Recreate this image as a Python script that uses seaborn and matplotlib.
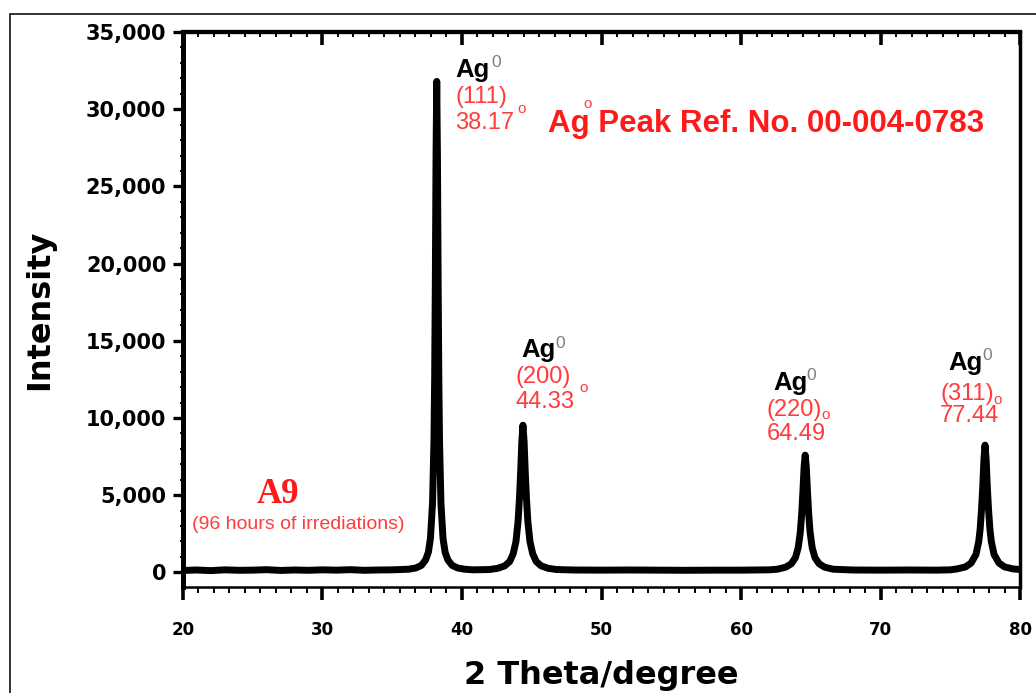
import matplotlib
matplotlib.use("Agg")
import matplotlib.pyplot as plt
import seaborn as sns
from matplotlib.ticker import AutoMinorLocator, FuncFormatter
from matplotlib.lines import Line2D

# XRD pattern values (2 theta in degrees, intensity in counts)
baseline_theta = [20.0, 21.0, 22.0, 23.0, 24.0, 25.0, 26.0, 27.0, 28.0, 29.0,
                  30.0, 31.0, 32.0, 33.0, 34.0, 35.0, 35.6]
baseline_int = [120, 150, 110, 160, 130, 140, 170, 120, 150, 130,
                160, 140, 170, 130, 150, 160, 180]

peak1_theta = [36.19, 36.69, 37.09, 37.39, 37.59, 37.74, 37.89, 37.99, 38.04,
               38.09, 38.14, 38.19, 38.24, 38.29, 38.34, 38.39, 38.49, 38.64,
               38.79, 38.99, 39.29, 39.69, 40.19]
peak1_int = [200, 280, 450, 800, 1300, 2200, 4500, 8500, 12500,
             19000, 27000, 31800, 27000, 19000, 12500, 8500, 4500, 2200,
             1300, 800, 450, 280, 200]

gap1_theta = [40.8, 41.4]
gap1_int = [160, 170]

peak2_theta = [41.97, 42.57, 43.07, 43.42, 43.67, 43.87, 44.02, 44.12, 44.21,
               44.29, 44.37, 44.45, 44.53, 44.62, 44.72, 44.87, 45.07, 45.32,
               45.67, 46.17, 46.77]
peak2_int = [180, 260, 420, 700, 1200, 2000, 3300, 4800, 6600,
             8500, 9530, 8500, 6600, 4800, 3300, 2000, 1200, 700,
             420, 260, 180]

gap2_theta = [48.0, 50.0, 52.0, 54.0, 56.0, 58.0, 60.0, 62.0]
gap2_int = [150, 140, 150, 140, 130, 140, 140, 160]

peak3_theta = [62.6, 63.2, 63.6, 63.9, 64.1, 64.25, 64.35, 64.44, 64.52, 64.6,
               64.68, 64.76, 64.85, 64.95, 65.1, 65.3, 65.6, 66.0, 66.6]
peak3_int = [200, 330, 550, 950, 1600, 2600, 3800, 5300, 6800, 7590,
             6800, 5300, 3800, 2600, 1600, 950, 550, 330, 200]

gap3_theta = [68.0, 70.0, 72.0, 74.0, 75.0]
gap3_int = [150, 140, 150, 140, 160]

peak4_theta = [75.49, 76.09, 76.49, 76.84, 77.04, 77.14, 77.24, 77.33, 77.41,
               77.49, 77.57, 77.65, 77.74, 77.84, 77.94, 78.14, 78.49, 78.89,
               79.49, 80.0]
peak4_int = [220, 350, 600, 1150, 2000, 2800, 4100, 5600, 7300,
             8240, 7300, 5600, 4100, 2800, 2000, 1150, 600, 350,
             220, 180]

two_theta = (baseline_theta + peak1_theta + gap1_theta + peak2_theta
             + gap2_theta + peak3_theta + gap3_theta + peak4_theta)
intensity = (baseline_int + peak1_int + gap1_int + peak2_int
             + gap2_int + peak3_int + gap3_int + peak4_int)

x_ticks = [20, 30, 40, 50, 60, 70, 80]
y_ticks = [0, 5000, 10000, 15000, 20000, 25000, 30000, 35000]

# peak labels: plane, angle
planes = ["(111)", "(200)", "(220)", "(311)"]
angles = ["38.17", "44.33", "64.49", "77.44"]

sns.set_style("ticks")
plt.rcParams["font.family"] = ["DejaVu Sans"]

fig = plt.figure(figsize=(10.36, 6.93), dpi=100)
ax = fig.add_axes([0.1766, 0.153, 0.808, 0.8008])

sns.lineplot(x=two_theta, y=intensity, color="black", lw=5, ax=ax,
             solid_joinstyle="round", solid_capstyle="round")

ax.set_xlim(20, 80)
ax.set_ylim(-950, 35000)
ax.set_xticks(x_ticks)
ax.set_yticks(y_ticks)
ax.yaxis.set_major_formatter(FuncFormatter(lambda v, p: f"{int(v):,}"))
ax.xaxis.set_minor_locator(AutoMinorLocator(9))
ax.yaxis.set_minor_locator(AutoMinorLocator(5))

ax.tick_params(axis="x", which="major", direction="out", length=9.5, width=2.6,
               pad=15, labelsize=12, labelcolor="black", color="black")
ax.tick_params(axis="x", which="minor", direction="out", length=4, width=1.4,
               color="black")
ax.tick_params(axis="y", which="major", direction="out", length=7, width=2.4,
               pad=5, labelsize=15, labelcolor="black", color="black")
ax.tick_params(axis="y", which="minor", direction="out", length=2.5, width=1.4,
               color="black")
for lab in ax.get_xticklabels() + ax.get_yticklabels():
    lab.set_fontweight("heavy")

top = ax.secondary_xaxis("top")
top.set_xticks(x_ticks)
top.xaxis.set_minor_locator(AutoMinorLocator(9))
top.tick_params(which="major", direction="in", length=9, width=2.6,
                labeltop=False, color="black")
top.tick_params(which="minor", direction="in", length=3.5, width=1.4,
                color="black")
top.spines["top"].set_linewidth(3)
top.spines["top"].set_color("black")

ax.spines["left"].set_linewidth(3.6)
ax.spines["top"].set_linewidth(3)
ax.spines["bottom"].set_linewidth(1.8)
ax.spines["right"].set_linewidth(2.5)
for s in ax.spines.values():
    s.set_color("black")

ax.set_xlabel("2 Theta/degree", fontsize=23, fontweight="heavy",
              labelpad=15, color="black")
ax.set_ylabel("Intensity", fontsize=23, fontweight="heavy", labelpad=22,
              color="black")

red = "#ff1a1a"
light_red = "#ff3b3b"
arial = "Liberation Sans"

# peak annotations
ag_pos = [(39.50, 32100), (44.28, 13943), (62.29, 11803), (74.84, 13100)]
sup_pos = [(42.10, 32750), (46.70, 14526), (64.70, 12451), (77.30, 13748)]
plane_pos = [(39.50, 30415), (43.87, 12257), (61.86, 10117), (74.27, 11154)]
angle_pos = [(39.50, 28730), (43.87, 10635), (61.86, 8560), (74.27, 9728)]
circ_pos = [(44.30, 30025), (48.71, 11932), (66.09, 10214), (78.39, 11187)]

for i in range(4):
    ax.text(*ag_pos[i], "Ag", fontsize=18.5, fontweight="bold", family=arial,
            color="black", ha="left", va="baseline")
    ax.text(*sup_pos[i], "0", fontsize=12.5, family=arial, color="#808080",
            ha="left", va="baseline")
    ax.text(*plane_pos[i], planes[i], fontsize=17, family=arial,
            color=light_red, ha="left", va="baseline")
    ax.text(*angle_pos[i], angles[i], fontsize=17, family=arial,
            color=light_red, ha="left", va="baseline")
    ax.text(*circ_pos[i], "o", fontsize=11, family=arial, color=light_red,
            ha="center", va="center")

ax.text(46.16, 28534, "Ag Peak Ref. No. 00-004-0783", fontsize=22.5,
        fontweight="bold", family=arial, color=red, ha="left", va="baseline")
ax.text(49.03, 30350, "o", fontsize=11, family=arial, color=light_red,
        ha="center", va="center")

ax.text(25.30, 4475, "A9", fontsize=25, fontweight="bold",
        family="Liberation Serif", color=red, ha="left", va="baseline")
ax.text(20.65, 2789, "(96 hours of irrediations)", fontsize=14, family=arial,
        color=light_red, ha="left", va="baseline")

# outer frame of the figure panel
fig.add_artist(Line2D([0.0101, 0.0101], [0.0, 0.9798], color="#333333", lw=1.4))
fig.add_artist(Line2D([0.0101, 1.0], [0.9798, 0.9798], color="#333333", lw=1.4))

fig.savefig("out.png", dpi=100)
